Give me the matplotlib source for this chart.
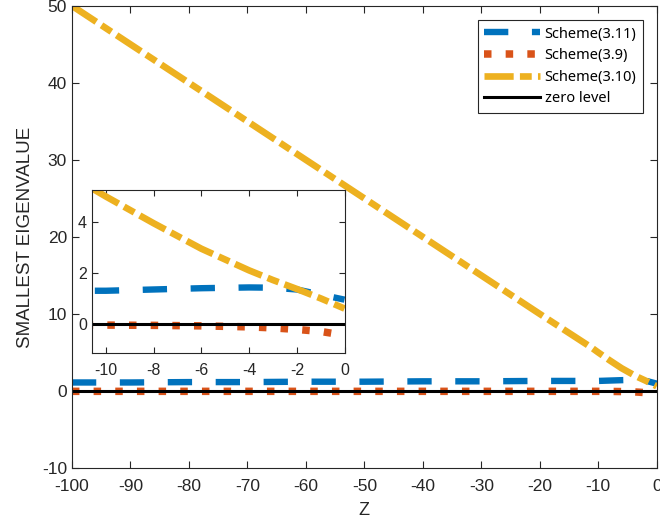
import matplotlib
matplotlib.use("Agg")
import matplotlib.pyplot as plt

plt.rcParams['lines.scale_dashes'] = False
plt.rcParams['axes.unicode_minus'] = False
plt.rcParams['font.family'] = ['Liberation Sans', 'DejaVu Sans']

# ---- data ----
z = [-100, -90, -80, -70, -60, -50, -40, -30, -20, -12, -11, -10, -8, -6, -4, -3, -2, -1, 0]
scheme_311 = [1.1, 1.1, 1.15, 1.15, 1.2, 1.2, 1.25, 1.25, 1.3, 1.3, 1.3, 1.3, 1.35, 1.4, 1.43, 1.42, 1.35, 1.15, 0.95]
scheme_39 = [-0.05, -0.05, -0.05, -0.05, -0.05, -0.05, -0.05, -0.05, -0.05, -0.05, -0.05, -0.05, -0.06, -0.08, -0.12, -0.16, -0.22, -0.3, -0.45]
scheme_310 = [50, 45, 40, 35, 30, 25, 20, 15, 10, 6.05, 5.55, 5.0, 3.95, 2.95, 2.1, 1.72, 1.37, 1.0, 0.6]
zero_level = [0.0] * len(z)

labels = ['Scheme(3.11)', 'Scheme(3.9)', 'Scheme(3.10)', 'zero level']
main_xticks = list(range(-100, 1, 10))
main_yticks = list(range(-10, 51, 10))
inset_xticks = [-10, -8, -6, -4, -2, 0]
inset_yticks = [0, 2, 4]

c_blue = '#0072BD'
c_red = '#D95319'
c_yel = '#EDB120'
gray = '#262626'

fig = plt.figure(figsize=(6.6, 5.27), dpi=100)
ax = fig.add_axes([0.109, 0.112, 0.886, 0.877])

def draw(a):
    a.plot(z, scheme_311, color=c_blue, lw=4.6, linestyle=(0, (17.5, 17.0)),
           dash_capstyle='butt', label=labels[0])
    a.plot(z, scheme_39, color=c_red, lw=5.4, linestyle=(0, (5.4, 10.2)),
           dash_capstyle='butt', label=labels[1])
    a.plot(z, scheme_310, color=c_yel, lw=4.8, linestyle=(0, (21.0, 4.5, 8.5, 4.5)),
           dash_capstyle='butt', label=labels[2])
    a.plot(z, zero_level, color='black', lw=2.2, label=labels[3])

draw(ax)
ax.set_xlim(-100, 0)
ax.set_ylim(-10, 50)
ax.set_xticks(main_xticks)
ax.set_yticks(main_yticks)
ax.set_xlabel('Z', fontsize=13, color=gray, labelpad=6)
ax.set_ylabel('SMALLEST EIGENVALUE', fontsize=13.5, color=gray, labelpad=6)

ax.tick_params(direction='in', length=5, width=0.8, colors=gray, labelsize=12.5,
               top=True, right=True)
ax.tick_params(axis='x', pad=8)
for s in ax.spines.values():
    s.set_color(gray)
    s.set_linewidth(0.8)

leg = ax.legend(loc='upper right', bbox_to_anchor=(643 / 660, 1 - 20 / 527),
                bbox_transform=fig.transFigure, borderaxespad=0,
                handlelength=3.8, fancybox=False, framealpha=1, edgecolor=gray,
                prop={'family': ['Noto Sans', 'DejaVu Sans'], 'size': 10.5},
                labelspacing=0.45, borderpad=0.45, handletextpad=0.35)
leg.get_frame().set_linewidth(0.8)

# ---- inset ----
axi = fig.add_axes([0.139, 0.330, 0.383, 0.309])
draw(axi)
axi.set_xlim(-10.6, 0)
axi.set_ylim(-1.15, 5.25)
axi.set_xticks(inset_xticks)
axi.set_yticks(inset_yticks)
axi.tick_params(direction='in', length=4, width=0.8, colors=gray, labelsize=11.5,
                top=True, right=True)
axi.tick_params(axis='x', pad=7)
for s in axi.spines.values():
    s.set_color(gray)
    s.set_linewidth(0.8)

fig.savefig('out.png', dpi=100)
